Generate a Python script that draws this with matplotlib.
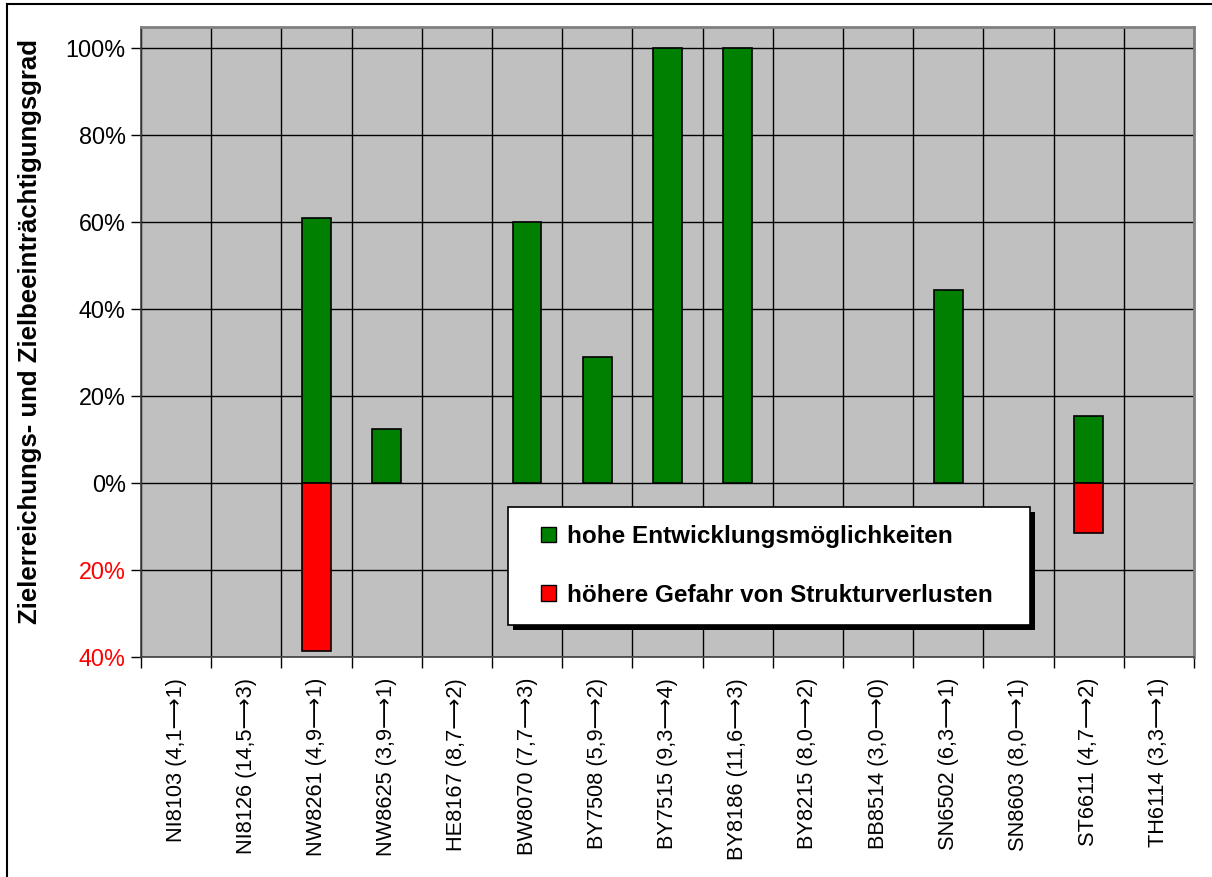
import matplotlib
matplotlib.use("Agg")
import matplotlib.pyplot as plt
from matplotlib.patches import Patch, Rectangle
from matplotlib.ticker import FixedLocator, FuncFormatter
from matplotlib.lines import Line2D
import numpy as np

plt.rcParams['font.family'] = ['Liberation Sans', 'DejaVu Sans']

categories = [
    "NI8103 (4,1\u27f61)", "NI8126 (14,5\u27f63)", "NW8261 (4,9\u27f61)",
    "NW8625 (3,9\u27f61)", "HE8167 (8,7\u27f62)", "BW8070 (7,7\u27f63)",
    "BY7508 (5,9\u27f62)", "BY7515 (9,3\u27f64)", "BY8186 (11,6\u27f63)",
    "BY8215 (8,0\u27f62)", "BB8514 (3,0\u27f60)", "SN6502 (6,3\u27f61)",
    "SN8603 (8,0\u27f61)", "ST6611 (4,7\u27f62)", "TH6114 (3,3\u27f61)",
]
# positive share (%)
entwicklung = [0, 0, 61, 12.3, 0, 60, 29, 100, 100, 0, 0, 44.3, 0, 15.3, 0]
# negative share (%), drawn below zero
strukturverlust = [0, 0, -38.7, 0, 0, 0, 0, 0, 0, 0, 0, 0, 0, -11.5, 0]

series_labels = ["hohe Entwicklungsmöglichkeiten",
                 "höhere Gefahr von Strukturverlusten"]
ylabel = "Zielerreichungs- und Zielbeeinträchtigungsgrad"

fig = plt.figure(figsize=(12.12, 8.77), dpi=100)
W, H = 1212, 877
ax = fig.add_axes([141 / W, 1 - 657 / H, 1053 / W, 630 / H])
ax.set_facecolor("#c0c0c0")

x = np.arange(len(categories))
green = "#008000"
red = "#ff0000"


def draw_series(values, color):
    vals = np.asarray(values, dtype=float)
    keep = vals != 0
    ax.bar(x[keep], vals[keep], width=0.41, color=color, edgecolor="black",
           linewidth=1.2, zorder=3)


draw_series(entwicklung, green)
draw_series(strukturverlust, red)

ax.set_xlim(-0.5, len(categories) - 0.5)
ax.set_ylim(-40, 104.8)

yt = np.arange(-40, 101, 20)
ax.yaxis.set_major_locator(FixedLocator(yt))
ax.yaxis.set_major_formatter(FuncFormatter(lambda v, p: f"{abs(v):.0f}%"))
ax.tick_params(axis="y", labelsize=16.8, length=7, width=1, pad=4, direction="out")
for lbl, v in zip(ax.get_yticklabels(), yt):
    lbl.set_color(red if v < 0 else "black")
ax.grid(axis="y", color="black", linewidth=1, zorder=1)

ax.set_xticks(x)
ax.set_xticklabels(categories, rotation=90, fontsize=15.7)
ax.tick_params(axis="x", which="major", length=0, pad=15)
ax.set_xticks(np.arange(-0.5, len(categories), 1), minor=True)
ax.tick_params(axis="x", which="minor", length=8, width=1, direction="out")
ax.grid(axis="x", which="minor", color="black", linewidth=1, zorder=1)
ax.set_axisbelow(True)

for side in ("top", "right"):
    ax.spines[side].set_color("#808080")
    ax.spines[side].set_linewidth(2)
for side in ("left", "bottom"):
    ax.spines[side].set_color("#404040")
    ax.spines[side].set_linewidth(1.2)

fig.text(30 / W, 1 - 332 / H, ylabel, rotation=90, fontsize=18.5, fontweight="bold",
         ha="center", va="center")

# legend box with a solid drop shadow
bx, by, bw, bh = 0.3485, 0.0508, 0.4957, 0.1873
ax.add_patch(Rectangle((bx + 0.0048, by - 0.0079), bw, bh, transform=ax.transAxes,
                       facecolor="black", edgecolor="none", zorder=5, clip_on=False))
ax.add_patch(Rectangle((bx, by), bw, bh, transform=ax.transAxes,
                       facecolor="white", edgecolor="black", linewidth=1.2, zorder=6,
                       clip_on=False))

handles = [Patch(facecolor=green, edgecolor="black", linewidth=1),
           Patch(facecolor=red, edgecolor="black", linewidth=1)]
leg = ax.legend(handles, series_labels, loc="upper left",
                bbox_to_anchor=(0.3799, 0.2095),
                prop={"size": 17.5, "weight": "bold"}, handlelength=0.6, handleheight=0.6,
                handletextpad=0.45, labelspacing=1.47, borderpad=0, borderaxespad=0,
                frameon=False)
leg.set_zorder(7)

# outer frame
fig.add_artist(Line2D([7 / W, 1], [1 - 4 / H, 1 - 4 / H], color="black", linewidth=1.5))
fig.add_artist(Line2D([7 / W, 7 / W], [0, 1 - 4 / H], color="black", linewidth=1.5))

fig.savefig("out.png", dpi=100)
